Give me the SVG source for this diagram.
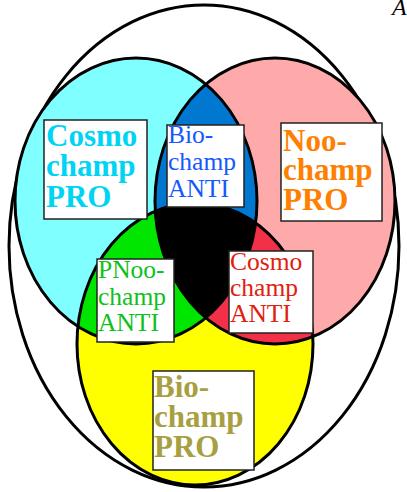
<svg xmlns="http://www.w3.org/2000/svg" width="407" height="492" viewBox="0 0 407 492">
<style>
.ol{fill:none;stroke:#000;stroke-width:3}
.box{fill:#fff;stroke:#222;stroke-width:1.5}
.b{font-family:"Liberation Serif",serif;font-weight:bold;font-size:31px}
.r{font-family:"Liberation Serif",serif;font-size:25.5px}
</style>
<defs>
<clipPath id="cC"><ellipse cx="136" cy="201" rx="121" ry="143"/></clipPath>
<clipPath id="cP"><ellipse cx="275" cy="201" rx="120" ry="143"/></clipPath>
</defs>
<rect width="407" height="492" fill="#fff"/>
<g id="outer"><ellipse class="ol" cx="204" cy="246" rx="195" ry="241"/></g>
<g id="fills">
<ellipse cx="136" cy="201" rx="121" ry="143" fill="#7fffff"/>
<ellipse cx="275" cy="201" rx="120" ry="143" fill="#ffaaaa"/>
<ellipse cx="195" cy="344" rx="118" ry="141" fill="#ffff00"/>
<ellipse clip-path="url(#cC)" cx="275" cy="201" rx="120" ry="143" fill="#0077d0"/>
<ellipse clip-path="url(#cC)" cx="195" cy="344" rx="118" ry="141" fill="#00e600"/>
<ellipse clip-path="url(#cP)" cx="195" cy="344" rx="118" ry="141" fill="#f23048"/>
<g clip-path="url(#cC)"><ellipse clip-path="url(#cP)" cx="195" cy="344" rx="118" ry="141" fill="#000"/></g>
</g>
<g id="outlines">
<ellipse class="ol" cx="136" cy="201" rx="121" ry="143"/>
<ellipse class="ol" cx="275" cy="201" rx="120" ry="143"/>
<ellipse class="ol" cx="195" cy="344" rx="118" ry="141"/>
</g>
<g id="cosmo-pro">
<rect class="box" x="44" y="120" width="103" height="99"/>
<text class="b" fill="#00d4f4"><tspan x="46" y="146">Cosmo</tspan><tspan x="46" y="176">champ</tspan><tspan x="46" y="207">PRO</tspan></text>
</g>
<g id="bio-anti">
<rect class="box" x="167" y="125" width="77" height="82"/>
<text class="r" fill="#1458ff"><tspan x="168" y="143">Bio-</tspan><tspan x="168" y="170">champ</tspan><tspan x="168" y="197">ANTI</tspan></text>
</g>
<g id="noo-pro">
<rect class="box" x="281" y="123" width="101" height="98"/>
<text class="b" fill="#ff8000"><tspan x="283" y="151">Noo-</tspan><tspan x="283" y="180">champ</tspan><tspan x="283" y="210">PRO</tspan></text>
</g>
<g id="pnoo-anti">
<rect class="box" x="97" y="259" width="77" height="83"/>
<text class="r" fill="#10c020"><tspan x="98" y="278">PNoo-</tspan><tspan x="98" y="305">champ</tspan><tspan x="98" y="331">ANTI</tspan></text>
</g>
<g id="cosmo-anti">
<rect class="box" x="229" y="251" width="84" height="82"/>
<text class="r" fill="#e02010"><tspan x="230" y="270">Cosmo</tspan><tspan x="230" y="296">champ</tspan><tspan x="230" y="322">ANTI</tspan></text>
</g>
<g id="bio-pro">
<rect class="box" x="153" y="371" width="101" height="99"/>
<text class="b" fill="#a8a040"><tspan x="154" y="397">Bio-</tspan><tspan x="154" y="427">champ</tspan><tspan x="154" y="457">PRO</tspan></text>
</g>
<text x="392" y="15" font-family="Liberation Serif,serif" font-style="italic" font-size="24" fill="#000">A</text>
</svg>
